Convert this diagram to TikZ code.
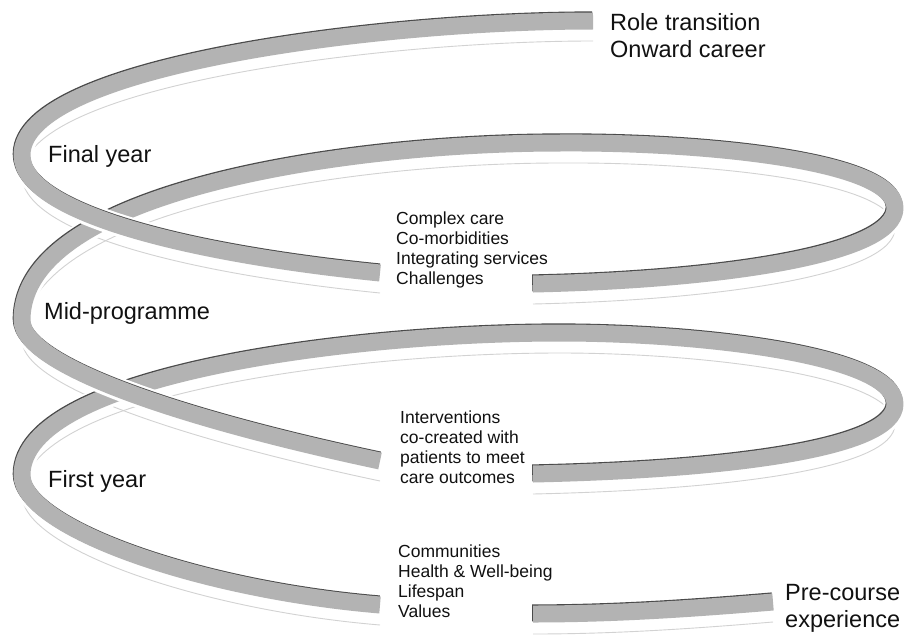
\documentclass[tikz,border=0pt]{standalone}
\usepackage{fontspec}
\setmainfont{Liberation Sans}
\definecolor{ribbon}{HTML}{B3B3B3}
\definecolor{rimc}{HTML}{4A4A4A}
\definecolor{shadec}{HTML}{D2D2D2}
\definecolor{txt}{HTML}{111111}
% continuous pieces of the spiral ribbon (broken only where the texts sit)
\newcommand{\segTop}{(593,21) .. controls (380,21) and (22,66) .. (22,155) .. controls (22,215) and (200,255) .. (380,273)}
\newcommand{\segMid}{(533,284) .. controls (720,280) and (895,255) .. (895,208) .. controls (895,160) and (700,142) .. (560,143) .. controls (350,143) and (22,190) .. (22,320) .. controls (22,370) and (210,425) .. (380,461)}
\newcommand{\segLow}{(533,474) .. controls (720,470) and (895,450) .. (895,404) .. controls (895,355) and (700,333) .. (560,333) .. controls (350,333) and (22,375) .. (22,475) .. controls (22,528) and (200,590) .. (380,605)}
\newcommand{\segStart}{(533,614) .. controls (620,614) and (700,608) .. (773,602)}
\begin{document}
\begin{tikzpicture}[x=1pt,y=-1pt,
  shadowline/.style={draw=shadec, line width=0.9pt, shift={(0,20)}},
  halo/.style={draw=white, line width=23pt, line join=round},
  rimline/.style={draw=rimc, line width=17pt, line join=round, shift={(-0.8,-1.1)}},
  bandline/.style={draw=ribbon, line width=17pt, line join=round},
  big/.style={font=\fontsize{23.5}{27}\selectfont, inner sep=0pt, anchor=north west, align=left, text=txt},
  small/.style={font=\fontsize{17.5}{20}\selectfont, inner sep=0pt, anchor=north west, align=left, text=txt}]
\useasboundingbox (0,0) rectangle (904,634);
\fill[white] (0,0) rectangle (904,634);
% faint lower edges of the ribbon
\draw[shadowline] \segTop;
\draw[shadowline] \segMid;
\draw[shadowline] \segLow;
\draw[shadowline] \segStart;
% ribbon pieces, lowest first so that each front arc passes over the back arc below it
\draw[rimline] \segStart; \draw[bandline] \segStart;
\draw[halo] \segLow; \draw[rimline] \segLow; \draw[bandline] \segLow;
\draw[halo] \segMid; \draw[rimline] \segMid; \draw[bandline] \segMid;
\draw[halo] \segTop; \draw[rimline] \segTop; \draw[bandline] \segTop;
% labels
\node[big] (role) at (610,13.2) {Role transition\\Onward career};
\node[big] (final) at (48,145.2) {Final year};
\node[big] (mid) at (44,302.2) {Mid-programme};
\node[big] (first) at (48,470.2) {First year};
\node[big] (pre) at (785,583.8) {Pre-course\\experience};
\node[small] (complex) at (396,211.5) {Complex care\\Co-morbidities\\Integrating services\\Challenges};
\node[small] (interv) at (400,410.5) {Interventions\\co-created with\\patients to meet\\care outcomes};
\node[small] (comm) at (398,544.5) {Communities\\Health \& Well-being\\Lifespan\\Values};
\end{tikzpicture}
\end{document}
